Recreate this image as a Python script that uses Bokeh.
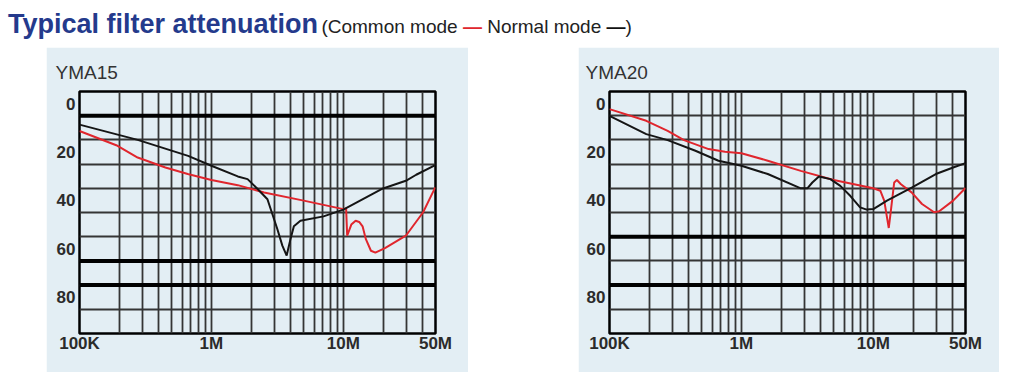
from bokeh.plotting import figure
from bokeh.models import FixedTicker, Span, Div, Spacer
from bokeh.layouts import row, column
from bokeh.embed import file_html
from bokeh.resources import INLINE

# ---------------- data (frequency in MHz, attenuation in dB) ----------------
yma15_normal_f = [0.1, 0.276, 0.666, 1.0, 1.585, 1.88, 2.24, 2.66, 3.16, 3.45, 3.72, 3.98, 4.22, 4.73, 7.08, 10.0, 19.5, 29.8, 35.7, 49.8]
yma15_normal_db = [8.7, 15.0, 21.6, 25.7, 30.1, 31.2, 35.3, 39.5, 51.8, 58.7, 62.8, 55.9, 50.7, 48.4, 46.6, 43.8, 35.3, 31.9, 29.4, 25.4]

yma15_common_f = [0.1, 0.19, 0.276, 0.448, 0.662, 1.0, 1.585, 2.51, 5.01, 10.0, 10.5, 10.7, 11.5, 12.4, 13.2, 14.0, 14.8, 16.2, 17.5, 20.7, 29.8, 40.3, 49.8]
yma15_common_db = [11.3, 17.2, 22.3, 26.4, 29.1, 31.6, 33.7, 36.7, 40.1, 43.6, 43.3, 54.6, 50.0, 48.4, 48.9, 50.7, 55.9, 60.8, 61.6, 59.7, 54.6, 44.9, 34.6]

yma20_normal_f = [0.1, 0.19, 0.276, 0.448, 0.67, 1.0, 1.585, 2.82, 3.16, 3.45, 3.87, 4.73, 5.62, 6.68, 7.94, 8.91, 10.0, 12.7, 19.7, 29.8, 40.3, 50.0]
yma20_normal_db = [5.1, 12.6, 15.1, 19.5, 23.6, 25.7, 29.1, 35.0, 35.0, 32.6, 30.1, 31.2, 34.0, 38.1, 42.9, 43.8, 43.6, 40.1, 34.6, 29.1, 26.4, 24.6]

yma20_common_f = [0.1, 0.19, 0.276, 0.367, 0.564, 0.751, 1.0, 1.585, 2.82, 5.01, 10.0, 11.3, 12.1, 12.7, 13.1, 13.5, 14.4, 15.1, 16.2, 19.5, 23.4, 28.9, 31.6, 40.3, 50.0]
yma20_common_db = [2.3, 7.1, 11.3, 15.1, 18.8, 19.9, 20.5, 23.6, 27.8, 31.6, 35.0, 36.0, 40.1, 47.0, 51.4, 45.6, 32.6, 31.6, 33.3, 36.7, 41.5, 44.9, 44.5, 40.1, 34.9]

x_tick_values = [1e5, 1e6, 1e7, 5e7]
x_tick_labels = ["100K", "1M", "10M", "50M"]
y_tick_values = [0, 20, 40, 60, 80]
y_tick_labels = ["0", "20", "40", "60", "80"]

# ---------------- styling ----------------
FONT = "Liberation Sans"
BG = "#e3eef4"
RED = "#e0262d"
BLACK = "#151515"
GRID = "#353535"

h_grid = [-5 + 10 * i for i in range(11)]
v_grid = [m * 10 ** e for e in (5, 6) for m in range(1, 10)] + [1e7, 2e7, 3e7, 4e7]


def make_panel(name, normal_f, normal_db, common_f, common_db, thick, b_left, b_right):
    p = figure(x_axis_type="log", x_range=(1e5, 5e7), y_range=(95, -5),
               frame_width=356, frame_height=242,
               width=b_left + 356 + b_right, height=325,
               min_border_left=b_left, min_border_right=b_right,
               min_border_top=44, min_border_bottom=39,
               output_backend="svg", toolbar_location=None)
    p.background_fill_color = BG
    p.border_fill_color = BG
    p.outline_line_color = "#000000"
    p.outline_line_width = 2.5

    p.title.text = name
    p.title.align = "left"
    p.title.offset = -24
    p.title.text_font = FONT
    p.title.text_font_size = "19px"
    p.title.text_font_style = "normal"
    p.title.text_color = "#333333"
    p.title.standoff = 17

    p.xgrid.ticker = FixedTicker(ticks=v_grid)
    p.ygrid.ticker = FixedTicker(ticks=h_grid)
    p.xgrid.grid_line_color = GRID
    p.xgrid.grid_line_width = 1.8
    p.ygrid.grid_line_color = GRID
    p.ygrid.grid_line_width = 2.2

    for v in thick:
        p.add_layout(Span(location=v, dimension="width", line_color="#000000", line_width=4))

    for ax, vals, labs in ((p.xaxis[0], x_tick_values, x_tick_labels), (p.yaxis[0], y_tick_values, y_tick_labels)):
        ax.ticker = FixedTicker(ticks=vals, minor_ticks=[])
        ax.major_label_overrides = {v: l for v, l in zip(vals, labs)}
        ax.axis_line_color = None
        ax.major_tick_line_color = None
        ax.minor_tick_line_color = None
        ax.major_tick_out = 0
        ax.major_tick_in = 0
        ax.minor_tick_out = 0
        ax.major_label_text_font = FONT
        ax.major_label_text_font_size = "17px"
        ax.major_label_text_font_style = "bold"
        ax.major_label_text_color = "#2b2b2b"
    p.xaxis.major_label_standoff = 0
    p.yaxis.major_label_standoff = 4

    p.line([f * 1e6 for f in common_f], common_db, line_color=RED, line_width=2)
    p.line([f * 1e6 for f in normal_f], normal_db, line_color=BLACK, line_width=2)
    return p


p1 = make_panel("YMA15", yma15_normal_f, yma15_normal_db, yma15_common_f, yma15_common_db, [5, 65, 75], 33, 33)
p2 = make_panel("YMA20", yma20_normal_f, yma20_normal_db, yma20_common_f, yma20_common_db, [55, 75], 31, 34)

title = Div(text=(
    "<div style=\"font-family:'Liberation Sans',Arial,sans-serif;white-space:nowrap;padding-left:3px;\">"
    "<span style='font-size:27px;font-weight:bold;color:#243a8c;'>Typical filter attenuation</span> "
    "<span style='font-size:19px;color:#222222;'>(Common mode "
    "<span style='color:#e0262d;font-weight:bold;'>&mdash;</span> Normal mode "
    "<span style='color:#111111;font-weight:bold;'>&mdash;</span>)</span></div>"),
    width=1000, height=37)

layout = column(title, row(Spacer(width=46), p1, Spacer(width=110), p2))

open("out.html", "w").write(file_html(layout, INLINE))
